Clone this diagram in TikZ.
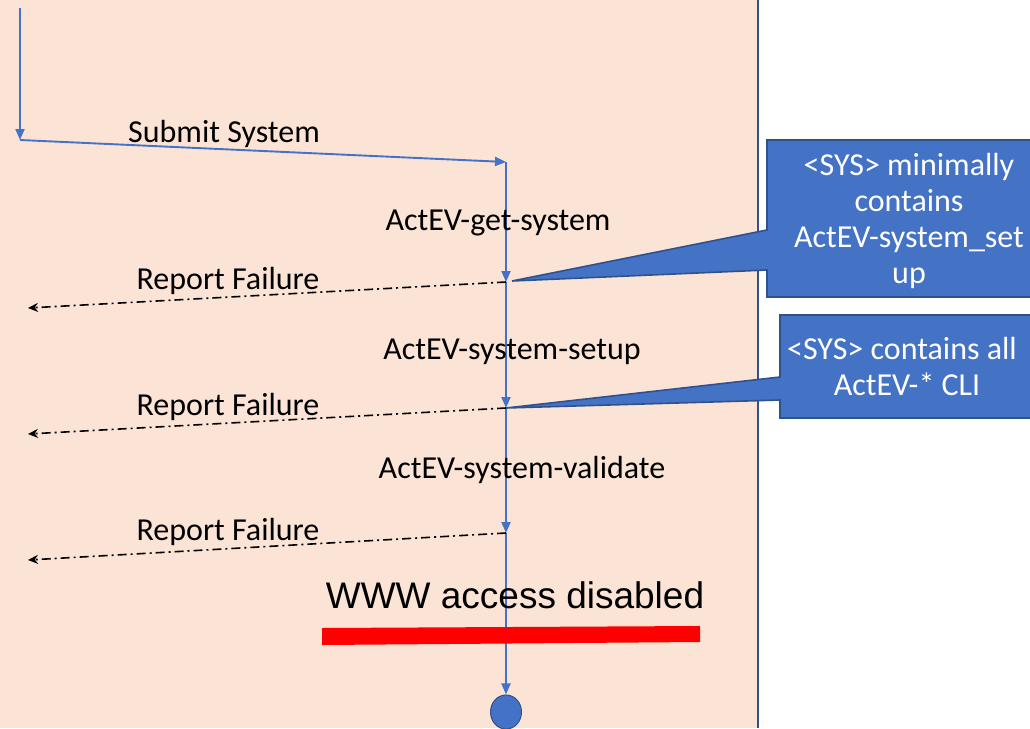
\documentclass[tikz,border=0pt]{standalone}
\usepackage{fontspec}
\setmainfont{Carlito}
\newfontfamily\arialfont{Liberation Sans}
\usetikzlibrary{arrows.meta}
\definecolor{peach}{RGB}{251,228,213}
\definecolor{flowblue}{RGB}{68,114,196}
\definecolor{edgeblue}{RGB}{47,82,143}
\tikzset{
  flow/.style={draw=flowblue, line width=1.9pt, -{Triangle[length=11pt,width=9pt]}},
  fail/.style={draw=black, line width=1.6pt, dash pattern=on 9pt off 4pt on 2pt off 4pt, -{Stealth[length=10pt,width=9pt]}},
  lbl/.style={font=\fontsize{32}{36}\selectfont, anchor=base, inner sep=0pt},
  clbl/.style={font=\fontsize{32}{36}\selectfont, anchor=base, inner sep=0pt, text=white},
  callout/.style={fill=flowblue, draw=edgeblue, line width=1.6pt, line join=miter},
}
\begin{document}
\begin{tikzpicture}[x=1pt,y=-1pt]
\useasboundingbox (0,0) rectangle (1030,728);
\fill[white] (0,0) rectangle (1030,728);
\fill[peach] (0,0) rectangle (758,728);
\draw[edgeblue, line width=1.8pt] (758,0) -- (758,728);

% flow coordinates
\coordinate (p0) at (20,8);
\coordinate (p1) at (20,140);
\coordinate (p2) at (506,162);
\coordinate (a1) at (506,282);
\coordinate (a2) at (506,408);
\coordinate (a3) at (506,533);
\coordinate (f1) at (28,308);
\coordinate (f2) at (28,434);
\coordinate (f3) at (28,560);
\node[circle, fill=flowblue, draw=edgeblue, line width=1pt, minimum width=31pt, inner sep=0pt, yscale=1.1] (end) at (506,712) {};

% callouts (drawn before flow lines)
\draw[callout] (767,140) -- (1040,140) -- (1040,297) -- (767,297) -- (767,270) -- (512,281) -- (767,230) -- cycle;
\draw[callout] (780,315) -- (1040,315) -- (1040,418) -- (780,418) -- (780,400) -- (506,408) -- (780,377) -- cycle;

\draw[flow] (p0) -- (p1);
\draw[flow] (p1) -- (p2);
\draw[flow] (p2) -- (a1);
\draw[flow] (a1) -- (a2);
\draw[flow] (a2) -- (a3);
\draw[flow] (a3) -- (end.north);

\draw[fail] (a1) -- (f1);
\draw[fail] (a2) -- (f2);
\draw[fail] (a3) -- (f3);

% red bar
\fill[red] (322,628) -- (700,626) -- (700,642) -- (322,645) -- cycle;

% labels
\node[lbl] (submit) at (224,142) {Submit System};
\node[lbl] (getsys) at (498,230) {ActEV-get-system};
\node[lbl] (rf1) at (228,289) {Report Failure};
\node[lbl] (setup) at (512,359) {ActEV-system-setup};
\node[lbl] (rf2) at (228,415) {Report Failure};
\node[lbl] (validate) at (522,478) {ActEV-system-validate};
\node[lbl] (rf3) at (228,540) {Report Failure};
\node[anchor=base, inner sep=0pt, font=\arialfont\fontsize{37}{42}\selectfont] (www) at (515,608) {WWW access disabled};

\node[clbl] (c1a) at (909,175) {<SYS> minimally};
\node[clbl] (c1b) at (909,211) {contains};
\node[clbl] (c1c) at (909,247) {ActEV-system\_set};
\node[clbl] (c1d) at (909,283) {up};
\node[clbl] (c2a) at (902,359) {<SYS> contains all};
\node[clbl] (c2b) at (907,395) {ActEV-* CLI};
\end{tikzpicture}
\end{document}
